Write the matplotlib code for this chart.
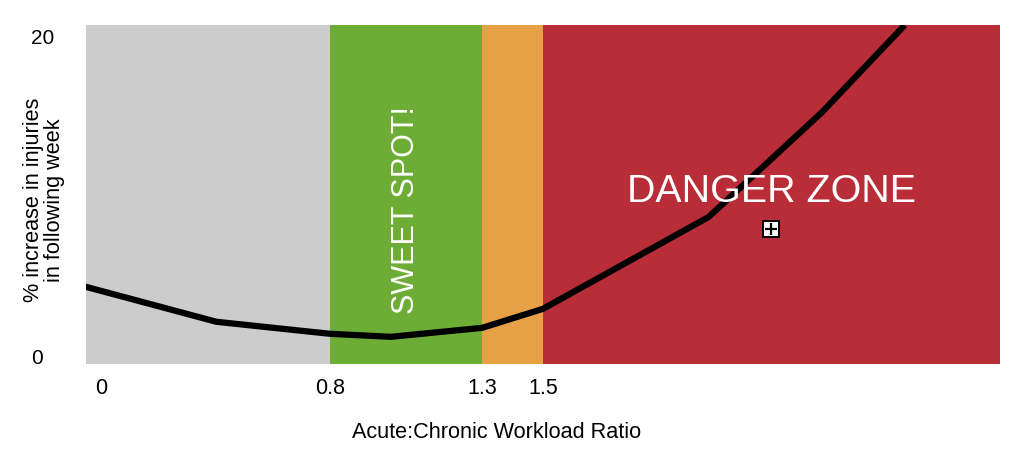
import matplotlib
matplotlib.use("Agg")
import matplotlib.pyplot as plt

plt.rcParams['font.family'] = ['Liberation Sans', 'DejaVu Sans']

# Data
ratio = [0.0, 0.428, 0.8, 1.0, 1.3, 1.5, 2.044, 2.416, 2.68]
injury_increase = [4.375, 2.19, 1.44, 1.25, 1.81, 3.0, 8.75, 15.3, 20.6]

zone_edges = [0.0, 0.8, 1.3, 1.5, 3.0]
zone_colors = ['#cccccc', '#6ead35', '#e6a046', '#b82d37']

xtick_positions = [0.05, 0.8, 1.3, 1.5]
xtick_labels = ['0', '0.8', '1.3', '1.5']
ytick_values = [0, 20]
ytick_labels = ['0', '20']

icon_x = [2.25]
icon_y = [8.0]

fig = plt.figure(figsize=(10.24, 4.63), dpi=100)
ax = fig.add_axes([86/1024, 1-364/463, (1000-86)/1024, (364-25)/463])

for i in range(len(zone_colors)):
    ax.axvspan(zone_edges[i], zone_edges[i+1], color=zone_colors[i], lw=0, zorder=0)

ax.plot(ratio, injury_increase, color='black', lw=4.5, solid_joinstyle='miter', zorder=3)

ax.set_xlim(zone_edges[0], zone_edges[-1])
ax.set_ylim(-0.45, 20.75)

ax.set_xticks(xtick_positions)
ax.set_xticklabels(xtick_labels, fontsize=15.5)
ax.set_yticks(ytick_values)
ax.set_yticklabels(ytick_labels, fontsize=15)
ax.tick_params(axis='both', length=0)
ax.tick_params(axis='x', pad=10)
ax.tick_params(axis='y', pad=39.5)
for lab in ax.get_yticklabels():
    lab.set_horizontalalignment('left')

for s in ax.spines.values():
    s.set_visible(False)

ax.text(1.05, 9.2, 'SWEET SPOT!', rotation=90, color='white', fontsize=22,
        ha='center', va='center', zorder=4)
ax.text(2.25, 10.3, 'DANGER ZONE', color='white', fontsize=28.4,
        ha='center', va='center', zorder=4)

# move-cursor style icon
ax.plot(icon_x, icon_y, marker='s', markersize=11.5, markerfacecolor='white',
        markeredgecolor='black', markeredgewidth=1.4, linestyle='none', zorder=5)
ax.plot(icon_x, icon_y, marker='+', markersize=8, markeredgecolor='black',
        markeredgewidth=1.6, linestyle='none', zorder=6)

fig.text(44/1024, 1-200/463, '% increase in injuries\nin following week', rotation=90,
         fontsize=15.6, ha='center', va='center', multialignment='center', linespacing=0.95)
fig.text(497/1024, 1-432/463, 'Acute:Chronic Workload Ratio', fontsize=15.6,
         ha='center', va='center')

fig.savefig('out.png', dpi=100)
